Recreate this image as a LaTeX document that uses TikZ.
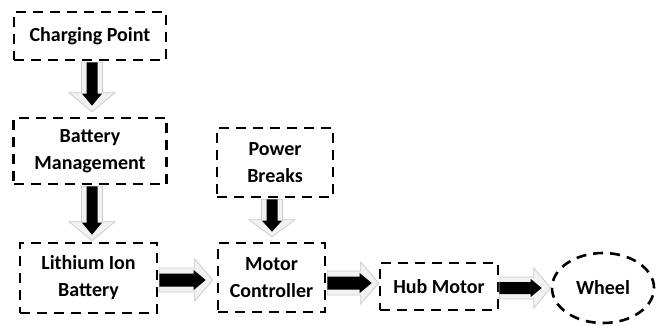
\documentclass[tikz,border=0pt]{standalone}
\usepackage{fontspec}
\setmainfont{Carlito}
\usetikzlibrary{calc,shapes.geometric}
\newcommand\fatarrow[6]{%
  \coordinate (faA) at (#1);
  \coordinate (faB) at (#2);
  \coordinate (faH) at ($(faB)!#5!(faA)$);
  \path[#6] ($(faA)!#3!90:(faB)$) -- ($(faH)!#3!-90:(faA)$) -- ($(faH)!#4!-90:(faA)$)
    -- (faB) -- ($(faH)!#4!90:(faA)$) -- ($(faH)!#3!90:(faA)$) -- ($(faA)!#3!-90:(faB)$) -- cycle;}
\begin{document}
\begin{tikzpicture}[x=1pt,y=1pt,
  box/.style={draw=black, line width=2.6pt, dash pattern=on 10pt off 7pt,
    inner sep=0pt, align=center, font=\bfseries\fontsize{20pt}{27pt}\selectfont},
  outerarrow/.style={fill=gray!10, draw=gray!40, line width=0.8pt},
  innerarrow/.style={fill=black}]
\useasboundingbox (0,0) rectangle (664,-325);
\node[box, minimum width=152pt, minimum height=48pt] (cp) at (90,-36) {Charging Point};
\node[box, minimum width=153pt, minimum height=66pt] (bm) at (90,-151) {Battery\\Management};
\node[box, minimum width=137pt, minimum height=70pt] (li) at (88.5,-278) {Lithium Ion\\Battery};
\node[box, minimum width=116pt, minimum height=69pt] (pb) at (275,-162.5) {Power\\Breaks};
\node[box, minimum width=107pt, minimum height=69pt] (mc) at (271.5,-277.5) {Motor\\Controller};
\node[box, minimum width=118pt, minimum height=47pt] (hm) at (439,-286.5) {Hub Motor};
\node[box, ellipse, minimum width=102pt, minimum height=70pt] (wh) at (603,-288) {Wheel};
% vertical arrows
\fatarrow{$(cp.south)+(2,-1)$}{$(cp.south |- bm.north)+(2,5)$}{10.5pt}{23pt}{19pt}{outerarrow}
\fatarrow{$(cp.south)+(2,-1)$}{$(cp.south |- bm.north)+(2,11)$}{5.5pt}{10pt}{12pt}{innerarrow}
\fatarrow{$(bm.south)+(2,-1)$}{$(bm.south |- li.north)+(2,1)$}{10.5pt}{23pt}{19pt}{outerarrow}
\fatarrow{$(bm.south)+(2,-1)$}{$(bm.south |- li.north)+(2,7)$}{5.5pt}{10pt}{12pt}{innerarrow}
\fatarrow{$(pb.south)+(-3,-1)$}{$(pb.south |- mc.north)+(-3,5)$}{10.5pt}{23pt}{17pt}{outerarrow}
\fatarrow{$(pb.south)+(-3,-1)$}{$(pb.south |- mc.north)+(-3,10)$}{5.5pt}{10pt}{11pt}{innerarrow}
% horizontal arrows
\fatarrow{$(li.east)+(1,-2)$}{$(mc.west |- li.east)+(-4,-2)$}{12pt}{21pt}{18pt}{outerarrow}
\fatarrow{$(li.east)+(1,-2)$}{$(mc.west |- li.east)+(-11,-2)$}{6.5pt}{10pt}{12pt}{innerarrow}
\fatarrow{$(mc.east)+(1,-5.5)$}{$(hm.west)+(0,3.5)$}{12pt}{21pt}{18pt}{outerarrow}
\fatarrow{$(mc.east)+(1,-5.5)$}{$(hm.west)+(-7,3.5)$}{6.5pt}{10pt}{12pt}{innerarrow}
\fatarrow{$(hm.east)+(0,-1.5)$}{$(wh.west)$}{11pt}{20pt}{17pt}{outerarrow}
\fatarrow{$(hm.east)+(0,-1.5)$}{$(wh.west)+(-9,0)$}{6pt}{9pt}{11pt}{innerarrow}
\end{tikzpicture}
\end{document}
